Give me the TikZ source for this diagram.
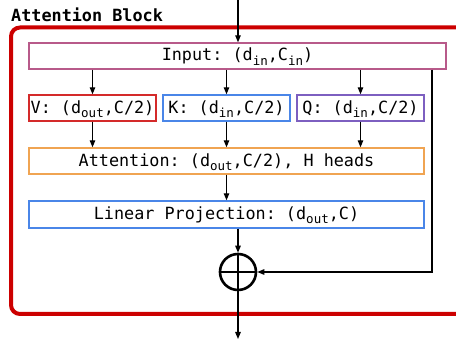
\documentclass[tikz,border=0pt]{standalone}
\usepackage{fontspec}
\setmonofont{DejaVu Sans Mono}
\usetikzlibrary{arrows.meta}
\definecolor{cRed}{HTML}{CC0000}
\definecolor{cIn}{HTML}{B85A8A}
\definecolor{cV}{HTML}{D42A2A}
\definecolor{cK}{HTML}{4A86E8}
\definecolor{cQ}{HTML}{7D5FC0}
\definecolor{cAtt}{HTML}{F0A452}
\newcommand{\lowsub}[1]{\raisebox{-4.5pt}[0pt][0pt]{\fontsize{12.5}{13}\selectfont #1}}
\tikzset{
  blk/.style={draw, line width=1.4pt, rectangle, inner sep=0pt, minimum height=26pt,
    font=\ttfamily\fontsize{16.8}{18}\selectfont},
  arr/.style={-{Triangle[length=7pt,width=5.5pt]}, line width=1.2pt, black}
}
\begin{document}
\begin{tikzpicture}[x=1pt,y=-1pt]
\useasboundingbox (0,0) rectangle (456,339);
\draw[cRed, line width=4pt, rounded corners=9pt] (11,27.5) rectangle (480,314);
\node[anchor=base west, inner sep=0pt, font=\ttfamily\bfseries\fontsize{16.8}{18}\selectfont] (title) at (11,22) {Attention Block};
\node[blk, draw=cIn, minimum width=417pt] (inp) at (237.5,56) {Input: (d\lowsub{in},C\lowsub{in})};
\node[blk, draw=cV, minimum width=127pt] (v) at (92.5,108) {V: (d\lowsub{out},C/2)};
\node[blk, draw=cK, minimum width=127pt] (k) at (226.5,108) {K: (d\lowsub{in},C/2)};
\node[blk, draw=cQ, minimum width=127pt] (q) at (360.5,108) {Q: (d\lowsub{in},C/2)};
\node[blk, draw=cAtt, minimum width=395pt] (att) at (226.5,161) {Attention: (d\lowsub{out},C/2), H heads};
\node[blk, draw=cK, minimum width=395pt, minimum height=27pt] (lin) at (226.5,214.5) {Linear Projection: (d\lowsub{out},C)};
\node[circle, draw, line width=2.6pt, minimum size=36pt, inner sep=0pt] (add) at (238,272) {};
\draw[line width=2.6pt] (add.west) -- (add.east) (add.north) -- (add.south);
\coordinate (top) at (238,0);
\coordinate (out) at (238,339);
\coordinate (skip) at (432,272);
\draw[arr] (top) -- (inp.north -| top);
\draw[arr] (inp.south -| v.north) -- (v.north);
\draw[arr] (inp.south -| k.north) -- (k.north);
\draw[arr] (inp.south -| q.north) -- (q.north);
\draw[arr] (v.south) -- (att.north -| v.south);
\draw[arr] (k.south) -- (att.north -| k.south);
\draw[arr] (q.south) -- (att.north -| q.south);
\draw[arr] (att.south) -- (lin.north);
\draw[arr] (lin.south -| add.north) -- (add.north);
\draw[arr] (inp.south -| skip) -- (skip) -- (add.east);
\draw[arr] (add.south) -- (out);
\end{tikzpicture}
\end{document}
